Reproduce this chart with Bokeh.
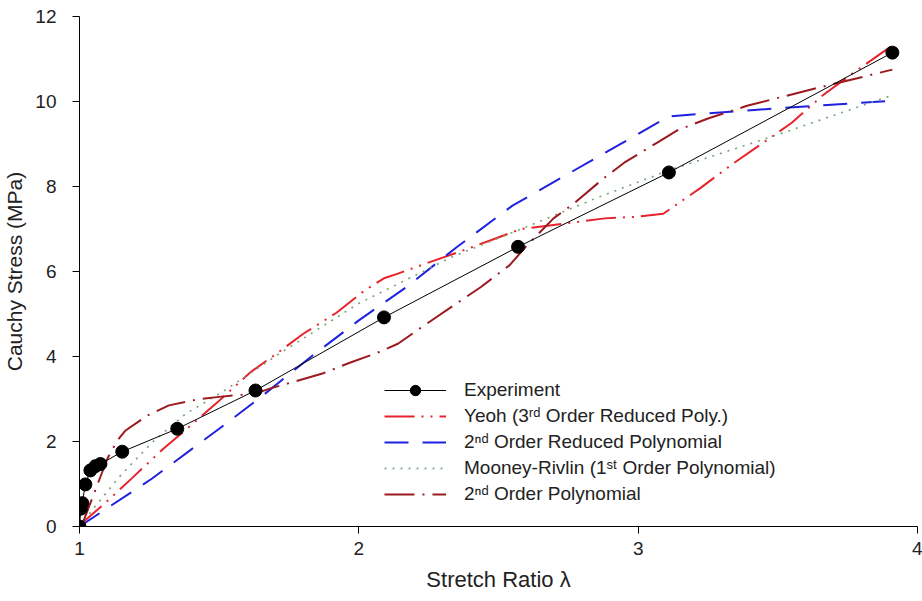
from bokeh.plotting import figure
from bokeh.models import Range1d, FixedTicker, Legend, LegendItem
from bokeh.embed import file_html
from bokeh.resources import INLINE

# Experiment
exp_x = [1.0, 1.005, 1.01, 1.021, 1.039, 1.057, 1.075, 1.153, 1.35, 1.63, 2.09, 2.57, 3.11, 3.91]
exp_y = [0.0, 0.42, 0.55, 0.99, 1.32, 1.42, 1.47, 1.76, 2.30, 3.20, 4.92, 6.58, 8.33, 11.15]

# Yeoh (3rd order reduced polynomial)
yeoh_x = [1.0, 1.02, 1.11, 1.19, 1.3, 1.39, 1.5, 1.61, 1.71, 1.8, 1.92, 2.02, 2.09, 2.14, 2.245,
          2.35, 2.47, 2.58, 2.74, 2.88, 3.0, 3.09, 3.22, 3.34, 3.45, 3.55, 3.66, 3.78, 3.91]
yeoh_y = [0.0, 0.14, 0.66, 1.15, 1.83, 2.33, 2.96, 3.62, 4.09, 4.53, 5.03, 5.55, 5.84, 5.95, 6.2,
          6.44, 6.73, 7.0, 7.13, 7.25, 7.29, 7.36, 7.95, 8.54, 9.04, 9.5, 10.14, 10.72, 11.32]

# 2nd order reduced polynomial
red2_x = [1.0, 1.26, 1.5, 1.65, 1.83, 2.0, 2.17, 2.35, 2.55, 2.87, 3.11, 3.39, 3.91]
red2_y = [0.0, 1.13, 2.3, 3.05, 4.0, 4.85, 5.63, 6.57, 7.55, 8.75, 9.65, 9.79, 10.02]

# Mooney-Rivlin (1st order polynomial)
mr_x = [1.0, 1.05, 1.14, 1.26, 1.38, 1.51, 1.73, 2.0, 2.33, 2.6, 2.855, 3.11, 3.5, 3.91]
mr_y = [0.0, 0.42, 1.15, 1.98, 2.65, 3.16, 4.13, 5.25, 6.33, 7.05, 7.74, 8.38, 9.22, 10.15]

# 2nd order polynomial
p2_x = [1.0, 1.015, 1.1, 1.135, 1.165, 1.24, 1.32, 1.43, 1.5, 1.63, 1.684, 1.87, 1.97, 2.06, 2.14,
        2.245, 2.35, 2.436, 2.54, 2.6, 2.697, 2.77, 2.876, 2.95, 3.07, 3.14, 3.25, 3.39, 3.63, 3.91]
p2_y = [0.0, 0.14, 1.6, 2.02, 2.26, 2.6, 2.85, 3.0, 3.05, 3.13, 3.25, 3.6, 3.86, 4.07, 4.3,
        4.78, 5.25, 5.63, 6.15, 6.6, 7.25, 7.6, 8.19, 8.56, 9.04, 9.32, 9.6, 9.9, 10.3, 10.75]

x_ticks = [1, 2, 3, 4]
y_ticks = [0, 2, 4, 6, 8, 10, 12]

labels = ["Experiment",
          "Yeoh (3\u02b3\u1d48 Order Reduced Poly.)",
          "2\u207f\u1d48 Order Reduced Polynomial",
          "Mooney-Rivlin (1\u02e2\u1d57 Order Polynomial)",
          "2\u207f\u1d48 Order Polynomial"]

FONT = "Liberation Sans"

p = figure(width=922, height=601, output_backend="svg", toolbar_location=None,
           x_range=Range1d(1, 4), y_range=Range1d(0, 12),
           min_border_left=79, min_border_right=5, min_border_top=16, min_border_bottom=75)
p.outline_line_color = None
p.grid.visible = False
p.background_fill_color = "white"
p.border_fill_color = "white"

for ax in (p.xaxis[0], p.yaxis[0]):
    ax.axis_line_color = "black"
    ax.axis_line_width = 1
    ax.major_tick_line_color = "black"
    ax.major_tick_out = 7
    ax.major_tick_in = 0
    ax.minor_tick_line_color = None
    ax.major_label_text_font = FONT
    ax.major_label_text_font_size = "19px"
    ax.major_label_text_color = "#222222"
    ax.axis_label_text_font = FONT
    ax.axis_label_text_font_style = "normal"
    ax.axis_label_text_font_size = "21px"
    ax.axis_label_text_color = "#222222"

p.xaxis.ticker = FixedTicker(ticks=x_ticks)
p.yaxis.ticker = FixedTicker(ticks=y_ticks)
p.xaxis.axis_label = "Stretch Ratio \u03bb"
p.yaxis.axis_label = "Cauchy Stress (MPa)"
p.xaxis.axis_label_text_font_size = "22px"
p.xaxis.major_label_standoff = 8
p.yaxis.major_label_standoff = 16
p.xaxis.axis_label_standoff = 9
p.yaxis.axis_label_standoff = 6

r_yeoh = p.line(yeoh_x, yeoh_y, line_color="#e8232b", line_width=2, line_dash="30 7 2 7 2 7")
r_red2 = p.line(red2_x, red2_y, line_color="#1e22e0", line_width=2, line_dash="24 14")
r_mr = p.line(mr_x, mr_y, line_color="#76a276", line_width=1.6, line_dash="2 6")
r_p2 = p.line(p2_x, p2_y, line_color="#9c1a1f", line_width=2, line_dash="30 8 2 8")
r_exp_l = p.line(exp_x, exp_y, line_color="black", line_width=1)
r_exp_m = p.scatter(exp_x, exp_y, size=13, fill_color="black", line_color="black")

legend = Legend(items=[
    LegendItem(label=labels[0], renderers=[r_exp_l, r_exp_m]),
    LegendItem(label=labels[1], renderers=[r_yeoh]),
    LegendItem(label=labels[2], renderers=[r_red2]),
    LegendItem(label=labels[3], renderers=[r_mr]),
    LegendItem(label=labels[4], renderers=[r_p2]),
], location=(305, 19))
legend.background_fill_alpha = 0
legend.border_line_color = None
legend.padding = 0
legend.margin = 0
legend.spacing = 0
legend.label_height = 26
legend.glyph_height = 26
legend.glyph_width = 62
legend.label_standoff = 18
legend.label_text_font = FONT
legend.label_text_font_size = "19px"
legend.label_text_color = "#222222"
p.add_layout(legend)

open("out.html", "w").write(file_html(p, INLINE))
